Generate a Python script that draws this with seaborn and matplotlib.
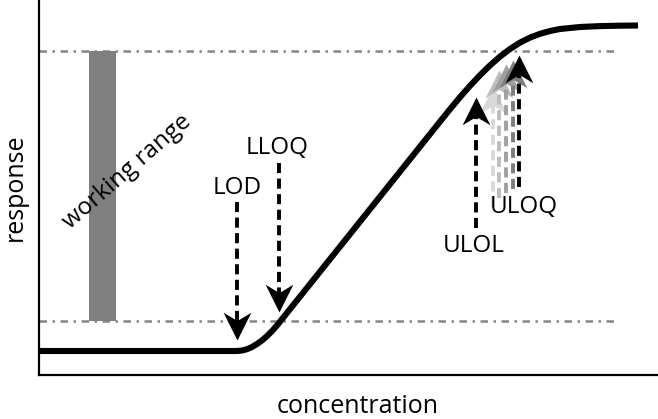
import numpy as np
import pandas as pd
import matplotlib
matplotlib.use("Agg")
import matplotlib.pyplot as plt
from matplotlib.path import Path
import seaborn as sns

# ---- data (schematic calibration curve) ----
concentration = [0, 191, 198, 203, 208, 213, 218, 223, 228, 233, 238, 243,
                 401, 411, 421, 431, 441, 451, 461, 471, 481, 491, 501, 511,
                 521, 541, 561, 581, 599]
response = [24, 24, 24, 24.5, 25.8, 28, 31, 34.6, 38.9, 43.9, 49.6, 55.9,
            253.4, 265.8, 277.8, 289.2, 299.8, 309.6, 318.4, 326.0, 332.4, 337.4, 341.2, 344.0,
            346.0, 348.0, 348.9, 349.3, 349.5]

limit_lines = [54, 324]           # lower / upper horizontal reference levels
limit_line_end = 578

working_range_x = 63.5
working_range = (54, 324)

arrow_labels = ["LOD", "LLOQ", "ULOL", "ULOQ"]
arrow_x = [198, 240, 437, 480]
arrow_start = [173, 212, 147, 188]
arrow_tip = [35, 63, 278, 320]

ghost_x = [454, 460, 467, 474]
ghost_start = [168, 177, 182, 186]
ghost_tip = [289, 305, 311, 315]
ghost_grey = ["#d9d9d9", "#bdbdbd", "#a0a0a0", "#7d7d7d"]

label_pos = {"LOD": (198, 187), "LLOQ": (238, 227), "ULOL": (435, 129), "ULOQ": (485, 168)}

# ---- figure ----
sns.set_style("white")
plt.rcParams["font.family"] = ["Open Sans", "DejaVu Sans"]
plt.rcParams["text.color"] = "black"
plt.rcParams["axes.labelcolor"] = "black"

fig = plt.figure(figsize=(6.58, 4.19), dpi=100)
ax = fig.add_axes([39 / 658, 44 / 419, 619 / 658, 375 / 419])
ax.set_xlim(0, 619)
ax.set_ylim(0, 375)

df = pd.DataFrame({"concentration": concentration, "response": response})
sns.lineplot(data=df, x="concentration", y="response", sort=False, ax=ax,
             color="black", linewidth=4.4, solid_capstyle="butt",
             solid_joinstyle="round", zorder=5)

for y in limit_lines:
    ax.hlines(y, 0, limit_line_end, colors="#858585", linewidth=1.8,
              linestyles=[(0, (3, 2.2, 1, 2.2))], zorder=1)

ax.bar(working_range_x, working_range[1] - working_range[0], bottom=working_range[0],
       width=27, color="#808080", linewidth=0, zorder=2)
ax.text(88, 203, "working range", rotation=41, ha="center", va="center",
        fontsize=17.5, rotation_mode="anchor", color="black")

head_down = Path([(0, 0), (-0.5, 1.0), (0, 0.7), (0.5, 1.0), (0, 0)],
                 [Path.MOVETO, Path.LINETO, Path.LINETO, Path.LINETO, Path.CLOSEPOLY])
head_up = Path([(0, 0), (-0.5, -1.0), (0, -0.7), (0.5, -1.0), (0, 0)],
               [Path.MOVETO, Path.LINETO, Path.LINETO, Path.LINETO, Path.CLOSEPOLY])


def draw_arrow(x, y0, y1, color, z):
    up = y1 > y0
    back = y1 - 14 if up else y1 + 14
    ax.plot([x, x], [y0, back], color=color, linewidth=2.8,
            linestyle=(0, (2.6, 1.4)), dash_capstyle="butt", zorder=z)
    ax.plot([x], [y1], marker=head_up if up else head_down, markersize=40,
            color=color, markeredgewidth=0, zorder=z)


for gx, gs, gt, gc in zip(ghost_x, ghost_start, ghost_tip, ghost_grey):
    draw_arrow(gx, gs, gt, gc, 3)

for lab, x, s, t in zip(arrow_labels, arrow_x, arrow_start, arrow_tip):
    draw_arrow(x, s, t, "black", 4)
    lx, ly = label_pos[lab]
    ax.text(lx, ly, lab, ha="center", va="center", fontsize=17.5, color="black")

ax.set_xlabel("concentration", fontsize=18, labelpad=14, x=0.515)
ax.set_ylabel("response", fontsize=18, labelpad=8)
ax.set_xticks([])
ax.set_yticks([])
for side in ["top", "right"]:
    ax.spines[side].set_visible(False)
for side in ["left", "bottom"]:
    ax.spines[side].set_color("black")
    ax.spines[side].set_linewidth(1.6)

fig.savefig("out.png", dpi=100)
